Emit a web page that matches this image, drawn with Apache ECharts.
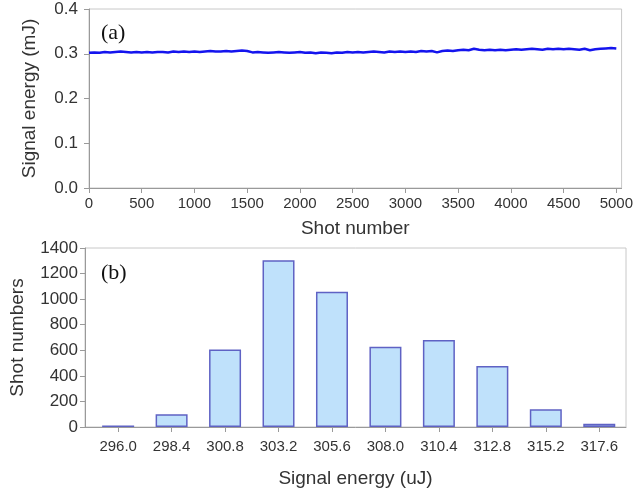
<!DOCTYPE html>
<html>
<head>
<meta charset="utf-8">
<script src="https://cdn.jsdelivr.net/npm/echarts@6/dist/echarts.min.js"></script>
<style>html,body{margin:0;padding:0;background:#fff}#c{width:636px;height:494px}</style>
</head>
<body>
<div id="c"></div>
<script>
// ---- Panel (a): signal energy per shot (sampled every 50 shots) ----
var shotStep = 50;
var signalEnergy = [
  0.302,0.303,0.302,0.304,0.303,0.304,0.305,0.304,0.303,0.304,0.303,
  0.304,0.303,0.304,0.304,0.303,0.305,0.304,0.305,0.304,0.305,
  0.304,0.305,0.306,0.305,0.305,0.306,0.305,0.306,0.307,0.306,
  0.303,0.304,0.303,0.302,0.303,0.304,0.303,0.302,0.303,0.304,
  0.302,0.303,0.301,0.303,0.302,0.301,0.303,0.302,0.304,0.303,
  0.304,0.303,0.304,0.305,0.304,0.303,0.305,0.304,0.305,0.304,
  0.305,0.304,0.306,0.305,0.306,0.303,0.306,0.307,0.306,0.308,
  0.309,0.308,0.311,0.309,0.308,0.309,0.308,0.309,0.308,0.309,
  0.310,0.309,0.310,0.311,0.310,0.309,0.311,0.310,0.311,0.310,
  0.311,0.310,0.309,0.311,0.308,0.310,0.311,0.312,0.313,0.312
];
var shotTicks = [0,500,1000,1500,2000,2500,3000,3500,4000,4500,5000];

// ---- Panel (b): histogram ----
var binLabels = ['296.0','298.4','300.8','303.2','305.6','308.0','310.4','312.8','315.2','317.6'];
var binCounts = [12,100,607,1305,1058,628,680,477,138,25];

var lineData = signalEnergy.map(function(v,i){return [i*shotStep, v];});
var barData = binCounts.map(function(v,i){return [i, v];});

var txt = '#333';
var axisCol = '#9a9a9a';
var font = 'Liberation Sans, Arial, sans-serif';

var chart = echarts.init(document.getElementById('c'), null, {renderer:'canvas'});
chart.setOption({
  backgroundColor:'#fff',
  animation:false,
  textStyle:{fontFamily:font},
  grid:[
    {left:89,right:11,top:9,height:179,show:true,borderColor:'#c8c8c8',borderWidth:1},
    {left:85,right:10,top:248,height:179,show:true,borderColor:'#c8c8c8',borderWidth:1}
  ],
  xAxis:[
    {gridIndex:0,type:'value',min:0,max:5050,interval:500,
     name:'Shot number',nameLocation:'middle',nameGap:31,
     nameTextStyle:{fontSize:19,color:txt,fontFamily:font},
     axisLine:{onZero:false,lineStyle:{color:axisCol}},
     axisTick:{show:true,length:5,lineStyle:{color:axisCol},customValues:shotTicks},
     axisLabel:{fontSize:15,color:txt,margin:8,customValues:shotTicks,
       formatter:function(v){return String(v);}},
     splitLine:{show:false}},
    {gridIndex:1,type:'value',min:-0.62,max:9.5,
     name:'Signal energy (uJ)',nameLocation:'middle',nameGap:42,
     nameTextStyle:{fontSize:19,color:txt,fontFamily:font},
     axisLine:{onZero:false,lineStyle:{color:axisCol}},
     axisTick:{show:true,length:5,lineStyle:{color:axisCol},customValues:[0,1,2,3,4,5,6,7,8,9]},
     axisLabel:{fontSize:15,color:txt,margin:12,customValues:[0,1,2,3,4,5,6,7,8,9],
       formatter:function(v){return binLabels[Math.round(v)];}},
     splitLine:{show:false}}
  ],
  yAxis:[
    {gridIndex:0,type:'value',min:0,max:0.4,interval:0.1,
     name:'Signal energy (mJ)',nameLocation:'middle',nameGap:50,
     nameTextStyle:{fontSize:19,color:txt,fontFamily:font},
     axisLine:{show:true,onZero:false,lineStyle:{color:axisCol}},
     axisTick:{show:true,length:5,lineStyle:{color:axisCol}},
     axisLabel:{fontSize:17,color:txt,margin:11,formatter:function(v){return v.toFixed(1);}},
     splitLine:{show:false}},
    {gridIndex:1,type:'value',min:0,max:1400,interval:200,
     name:'Shot numbers',nameLocation:'middle',nameGap:58,
     nameTextStyle:{fontSize:19,color:txt,fontFamily:font},
     axisLine:{show:true,onZero:false,lineStyle:{color:axisCol}},
     axisTick:{show:true,length:5,lineStyle:{color:axisCol}},
     axisLabel:{fontSize:17,color:txt,margin:7,formatter:function(v){return String(v);}},
     splitLine:{show:false}}
  ],
  graphic:[
    {type:'text',left:101,top:22,style:{text:'(a)',fontFamily:'Liberation Serif, Times New Roman, serif',fontSize:22,fill:'#111'}},
    {type:'text',left:101,top:262,style:{text:'(b)',fontFamily:'Liberation Serif, Times New Roman, serif',fontSize:22,fill:'#111'}}
  ],
  series:[
    {type:'line',xAxisIndex:0,yAxisIndex:0,data:lineData,showSymbol:false,
     lineStyle:{color:'#1414ee',width:2.5}},
    {type:'bar',xAxisIndex:1,yAxisIndex:1,data:barData,barWidth:32,
     itemStyle:{color:'#bfe1fb',borderColor:'#5f62c4',borderWidth:1.5}}
  ]
});
</script>
</body>
</html>
